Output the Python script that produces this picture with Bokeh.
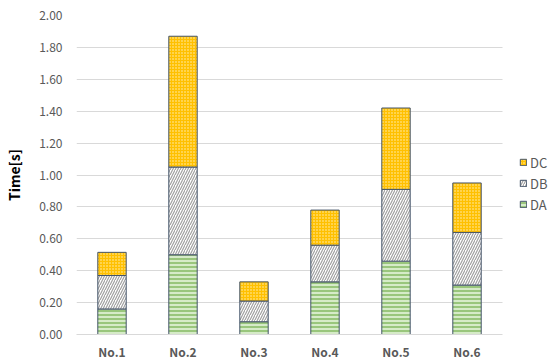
from bokeh.plotting import figure
from bokeh.models import FixedTicker, NumeralTickFormatter, Legend, LegendItem, ColumnDataSource
from bokeh.embed import file_html
from bokeh.resources import INLINE

categories = ["No.1", "No.2", "No.3", "No.4", "No.5", "No.6"]
DA = [0.16, 0.50, 0.08, 0.33, 0.46, 0.31]
DB = [0.21, 0.55, 0.13, 0.23, 0.45, 0.33]
DC = [0.145, 0.82, 0.12, 0.22, 0.51, 0.31]
y_ticks = [0.0, 0.2, 0.4, 0.6, 0.8, 1.0, 1.2, 1.4, 1.6, 1.8, 2.0]

FONT = "Noto Sans CJK JP"

xpos = list(range(len(categories)))
n = len(categories)

p = figure(x_range=(-0.5, 6.176), y_range=(0, 2.0), width=550, height=362,
           output_backend="svg", toolbar_location=None,
           min_border_top=15, min_border_right=0, min_border_left=76, min_border_bottom=0)

styles = {
    "DA": dict(fill_color="#D6EBC8", hatch_color="#70AD47", hatch_pattern="horizontal_line", hatch_scale=4, hatch_weight=1.2),
    "DB": dict(fill_color="#FFFFFF", hatch_color="#A0A0A0", hatch_pattern="right_diagonal_line", hatch_scale=5, hatch_weight=1.2),
    "DC": dict(fill_color="#FFC000", hatch_color="#FFF2C0", hatch_pattern="dot", hatch_scale=3, hatch_weight=1.0),
}

renderers = []
bottoms = [0.0] * n
for k, vals in [("DA", DA), ("DB", DB), ("DC", DC)]:
    tops = [b + v for b, v in zip(bottoms, vals)]
    s = styles[k]
    src = ColumnDataSource(dict(x=xpos, bottom=bottoms, top=tops))
    r = p.vbar(x="x", bottom="bottom", top="top", width=0.4, source=src,
               line_color="#44546A", line_width=1,
               fill_color=s["fill_color"], hatch_color=s["hatch_color"],
               hatch_pattern=s["hatch_pattern"], hatch_scale=s["hatch_scale"],
               hatch_weight=s["hatch_weight"])
    renderers.append(r)
    bottoms = tops

legend = Legend(items=[LegendItem(label="DC", renderers=[renderers[2]]),
                       LegendItem(label="DB", renderers=[renderers[1]]),
                       LegendItem(label="DA", renderers=[renderers[0]])],
                location=(443, 120), glyph_width=8, glyph_height=8, label_standoff=3,
                spacing=1, padding=0, margin=0, label_height=20, border_line_color=None,
                label_text_font=FONT, label_text_font_size="13px", label_text_color="#595959",
                background_fill_alpha=0)
p.add_layout(legend)

p.yaxis.ticker = FixedTicker(ticks=y_ticks)
p.yaxis.formatter = NumeralTickFormatter(format="0.00")
p.yaxis.axis_line_color = None
p.yaxis.major_tick_line_color = None
p.yaxis.minor_tick_line_color = None
p.yaxis.major_label_standoff = 8
p.yaxis.major_label_text_font = FONT
p.yaxis.major_label_text_font_size = "12px"
p.yaxis.major_label_text_color = "#595959"
p.yaxis.axis_label = "Time[s]"
p.yaxis.axis_label_text_font = FONT
p.yaxis.axis_label_text_font_size = "14px"
p.yaxis.axis_label_text_font_style = "bold"
p.yaxis.axis_label_text_color = "#000000"
p.yaxis.axis_label_standoff = 12

p.xaxis.ticker = FixedTicker(ticks=xpos)
p.xaxis.major_label_overrides = {i: c for i, c in zip(xpos, categories)}
p.xaxis.bounds = (-0.5, n - 0.5)
p.xaxis.axis_line_color = "#D9D9D9"
p.xaxis.major_tick_line_color = None
p.xaxis.minor_tick_line_color = None
p.xaxis.major_label_standoff = 2
p.xaxis.major_label_text_font = FONT
p.xaxis.major_label_text_font_size = "12px"
p.xaxis.major_label_text_font_style = "bold"
p.xaxis.major_label_text_color = "#595959"

p.xgrid.grid_line_color = None
p.ygrid.grid_line_color = "#D9D9D9"
p.ygrid.grid_line_width = 1
p.ygrid.cross_bounds = (-0.5, n - 0.5)
p.outline_line_color = None

open("out.html", "w").write(file_html(p, INLINE))
